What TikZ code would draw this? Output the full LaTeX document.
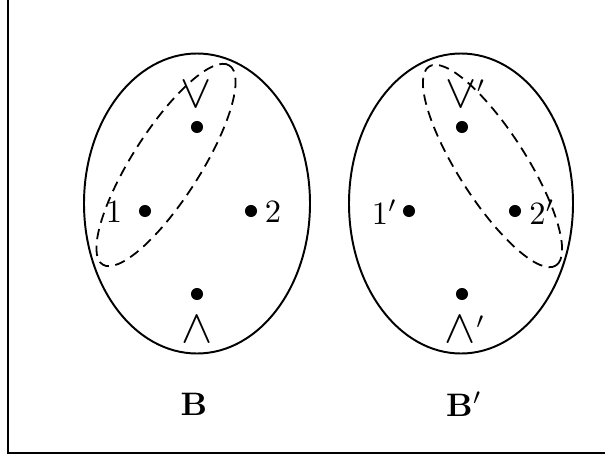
\documentclass[tikz,border=0pt]{standalone}
\usetikzlibrary{shapes.geometric}
\begin{document}
\begin{tikzpicture}[x=0.3077pt,y=0.3077pt,
  dot/.style={circle,fill=black,inner sep=0pt,minimum size=3.7pt},
  outer/.style={line width=0.6pt},
  group/.style={line width=0.55pt,dash pattern=on 3.2pt off 2pt},
  lbl/.style={inner sep=0pt},
  sym/.style={inner sep=0pt,font=\Large}]
\path[use as bounding box,clip] (0,0) rectangle (605,458);
\draw[line width=0.8pt] (8,5) rectangle (615,460);
% left
\draw[outer] (197,254.5) ellipse [x radius=113,y radius=150];
\node[dot] (lt) at (197,331) {};
\node[dot] (l1) at (145,247) {};
\node[dot] (l2) at (251,247) {};
\node[dot] (lb) at (197,164) {};
\node[sym] (lvee) at (196,364) {$\vee$};
\node[sym] (lwedge) at (197,129) {$\wedge$};
\node[lbl] (lone) at (114,246) {$1$};
\node[lbl] (ltwo) at (273,246) {$2$};
\node[lbl] (lB) at (194,54) {$\mathbf{B}$};
\draw[group,rotate around={57.5:(166,293)}] (166,293) ellipse [x radius=118,y radius=34];
% right
\draw[outer] (461,254.5) ellipse [x radius=112,y radius=150];
\node[dot] (rt) at (462,331) {};
\node[dot] (r1) at (409,247) {};
\node[dot] (r2) at (515,247) {};
\node[dot] (rb) at (462,164) {};
\node[sym] (rvee) at (461,364) {$\vee$\rlap{\normalsize\raisebox{1pt}{$'$}}};
\node[sym] (rwedge) at (460.5,129) {$\wedge$\rlap{\normalsize\raisebox{0.5pt}{$'$}}};
\node[lbl] (rone) at (380,246) {$1\rlap{$'$}$};
\node[lbl] (rtwo) at (537.5,246) {$2\rlap{$'$}$};
\node[lbl] (rB) at (459.5,54) {$\mathbf{B}\rlap{$'$}$};
\draw[group,rotate around={-57.5:(492.5,292)}] (492.5,292) ellipse [x radius=118,y radius=34];
\end{tikzpicture}
\end{document}
